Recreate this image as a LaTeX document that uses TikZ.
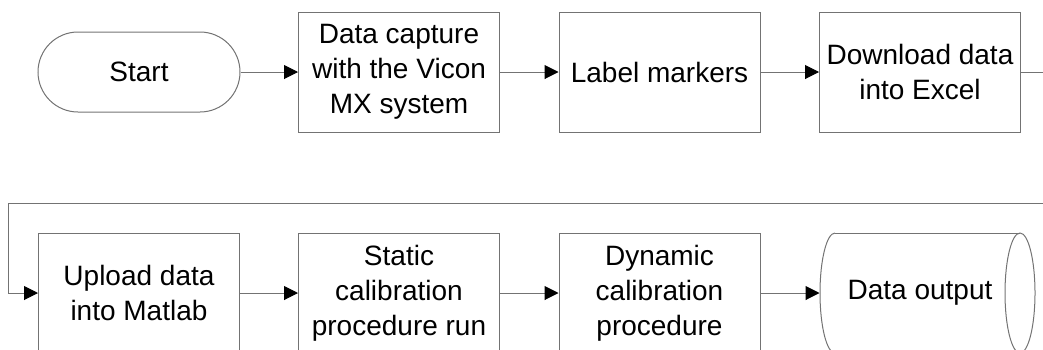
\documentclass[tikz,border=0pt]{standalone}
\usepackage{fontspec}
\setmainfont{Liberation Sans}
\usetikzlibrary{arrows.meta}
\tikzset{
  base/.style={draw=black!55, line width=1pt, align=center, inner sep=0pt,
    font=\fontsize{28}{35}\selectfont, text=black},
  stepbox/.style={base, rectangle, minimum width=201pt, minimum height=120pt},
  terminal/.style={base, rectangle, rounded corners=40pt, minimum width=202pt, minimum height=80pt},
  conn/.style={draw=black!55, line width=1pt, -{Triangle[length=14pt,width=14pt,color=black]}},
  plain/.style={draw=black!55, line width=1pt},
}
\begin{document}
\begin{tikzpicture}[x=1pt,y=-1pt]
\useasboundingbox (0,0) rectangle (1043,349);
\clip (0,0) rectangle (1043,349);
% top row
\node[terminal] (start) at (139,72) {Start};
\node[stepbox] (capture) at (399,72) {Data capture\\with the Vicon\\MX system};
\node[stepbox] (label) at (659.5,72) {Label markers};
\node[stepbox] (download) at (920,72) {Download data\\into Excel};
% bottom row
\node[stepbox] (upload) at (139,293) {Upload data\\into Matlab};
\node[stepbox] (static) at (399,293) {Static\\calibration\\procedure run};
\node[stepbox] (dynamic) at (659.5,293) {Dynamic\\calibration\\procedure};
\node[base, draw=none, minimum width=200pt, minimum height=120pt] (output) at (920,293) {Data output};
\draw[plain] (835,233) -- (1020,233);
\draw[plain] (835,353) -- (1020,353);
\draw[plain] (835,233) arc[start angle=270, end angle=90, x radius=15, y radius=60];
\draw[plain] (1020,293) ellipse[x radius=15, y radius=60];
% connectors
\coordinate (r1) at (1070,72);
\coordinate (r2) at (1070,203);
\coordinate (l1) at (8,203);
\coordinate (l2) at (8,293);
\draw[conn] (start) -- (capture);
\draw[conn] (capture) -- (label);
\draw[conn] (label) -- (download);
\draw[conn] (download.east) -- (r1) -- (r2) -- (l1) -- (l2) -- (upload.west);
\draw[conn] (upload) -- (static);
\draw[conn] (static) -- (dynamic);
\draw[conn] (dynamic.east) -- (output.west);
\end{tikzpicture}
\end{document}
